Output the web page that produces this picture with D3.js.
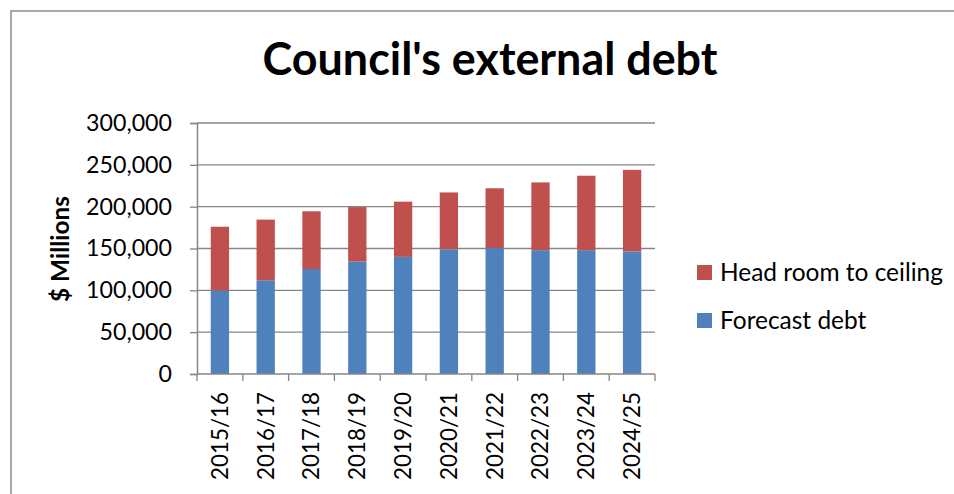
<!DOCTYPE html>
<html>
<head>
<meta charset="utf-8">
<script src="https://cdn.jsdelivr.net/npm/d3@7"></script>
<style>
  html, body { margin: 0; padding: 0; background: #fff; }
  svg { display: block; }
</style>
</head>
<body>
<div id="chart"></div>
<script>
const years = ['2015/16', '2016/17', '2017/18', '2018/19', '2019/20',
               '2020/21', '2021/22', '2022/23', '2023/24', '2024/25']
const forecast_debt = [100000, 112000, 125500, 134500, 140000, 149000, 150500, 148000, 148000, 146500]
const head_room = [76000, 72500, 69000, 65000, 66000, 68000, 71500, 81000, 89000, 97500]
const y_ticks = [0, 50000, 100000, 150000, 200000, 250000, 300000]
const series_names = ['Forecast debt', 'Head room to ceiling']

const svg_width = 954,
      svg_height = 494,
      plot_left = 197,
      plot_right = 655,
      plot_top = 123,
      plot_bottom = 374,
      grid_color = '#868686',
      font = 'Lato, Carlito, Calibri, sans-serif',
      colors = {'Forecast debt': '#4F81BD', 'Head room to ceiling': '#C0504D'}

// shrink/grow a text element's font size so it spans the given width
function fit_width(sel, width) {
  const size = parseFloat(sel.attr('font-size'))
  const w = sel.node().getComputedTextLength()
  sel.attr('font-size', size * width / w)
}

const svg = d3.select('#chart')
  .append('svg')
  .attr('width', svg_width)
  .attr('height', svg_height)

// outer chart border (only top and left edges are inside the window)
svg.append('rect')
  .attr('x', 11)
  .attr('y', 11)
  .attr('width', svg_width + 20)
  .attr('height', svg_height + 20)
  .style('fill', 'none')
  .style('stroke', '#8c8c8c')
  .style('stroke-width', 1.5)

const x = d3.scaleBand()
  .domain(years)
  .range([plot_left, plot_right])
  .paddingInner(0.6)
  .paddingOuter(0.3)

const y = d3.scaleLinear()
  .domain([0, 300000])
  .range([plot_bottom, plot_top])

// gridlines
svg.append('g')
  .selectAll('line')
  .data(y_ticks.filter(d => d > 0))
  .join('line')
  .attr('x1', plot_left)
  .attr('x2', plot_right)
  .attr('y1', d => y(d))
  .attr('y2', d => y(d))
  .style('stroke', grid_color)
  .style('stroke-width', 1.3)

// stacked bars
const rows = years.map((yr, i) => ({year: yr, 'Forecast debt': forecast_debt[i], 'Head room to ceiling': head_room[i]}))
const stacked = d3.stack().keys(series_names)(rows)

svg.append('g')
  .selectAll('g')
  .data(stacked)
  .join('g')
  .style('fill', d => colors[d.key])
  .selectAll('rect')
  .data(d => d)
  .join('rect')
  .attr('x', d => x(d.data.year))
  .attr('width', x.bandwidth())
  .attr('y', d => y(d[1]))
  .attr('height', d => y(d[0]) - y(d[1]))

// y axis
const y_axis = svg.append('g')
  .attr('transform', `translate(${plot_left},0)`)
  .call(d3.axisLeft(y).tickValues(y_ticks).tickSize(7).tickPadding(18)
    .tickFormat(d3.format(',')))

y_axis.select('.domain').style('stroke', grid_color).style('stroke-width', 1.5)
y_axis.selectAll('.tick line').style('stroke', grid_color).style('stroke-width', 1.3)
y_axis.selectAll('.tick text')
  .attr('font-family', font)
  .attr('font-size', 22)
  .attr('fill', '#000')

const top_label = y_axis.selectAll('.tick text').filter(d => d === 300000)
fit_width(top_label, 86)
y_axis.selectAll('.tick text').attr('font-size', top_label.attr('font-size'))

// x axis, ticks sit on the category boundaries
const x_axis = svg.append('g')
  .attr('transform', `translate(0,${plot_bottom})`)

x_axis.append('line')
  .attr('x1', plot_left)
  .attr('x2', plot_right)
  .style('stroke', grid_color)
  .style('stroke-width', 1.5)

const step = x.step()
x_axis.selectAll('line.tick')
  .data(d3.range(years.length + 1))
  .join('line')
  .attr('class', 'tick')
  .attr('x1', i => plot_left + i * step)
  .attr('x2', i => plot_left + i * step)
  .attr('y1', 0)
  .attr('y2', 7)
  .style('stroke', grid_color)
  .style('stroke-width', 1.3)

const x_labels = x_axis.selectAll('text')
  .data(years)
  .join('text')
  .attr('transform', d => `translate(${x(d) + x.bandwidth() / 2},18) rotate(-90)`)
  .attr('text-anchor', 'end')
  .attr('dy', '0.35em')
  .attr('font-family', font)
  .attr('font-size', 24)
  .text(d => d)

fit_width(x_labels.filter((d, i) => i === 0), 88)
x_labels.attr('font-size', x_labels.filter((d, i) => i === 0).attr('font-size'))

// y axis title
const y_title = svg.append('text')
  .attr('transform', 'translate(60,249) rotate(-90)')
  .attr('text-anchor', 'middle')
  .attr('dy', '0.35em')
  .attr('font-family', font)
  .attr('font-weight', 'bold')
  .attr('font-size', 19)
  .text('$ Millions')
fit_width(y_title, 106)

// chart title
const title = svg.append('text')
  .attr('x', 490)
  .attr('y', 75)
  .attr('text-anchor', 'middle')
  .attr('font-family', font)
  .attr('font-weight', 'bold')
  .attr('font-size', 40)
  .text("Council's external debt")
fit_width(title, 455)

// legend, head room listed first
const legend = svg.append('g')
  .attr('transform', 'translate(697,265)')

const legend_items = legend.selectAll('g')
  .data(series_names.slice().reverse())
  .join('g')
  .attr('transform', (d, i) => `translate(0,${i * 48})`)

legend_items.append('rect')
  .attr('width', 15)
  .attr('height', 15)
  .style('fill', d => colors[d])

const legend_text = legend_items.append('text')
  .attr('x', 23)
  .attr('y', 15.5)
  .attr('font-family', font)
  .attr('font-size', 24)
  .text(d => d)

fit_width(legend_text.filter((d, i) => i === 0), 223)
legend_text.attr('font-size', legend_text.filter((d, i) => i === 0).attr('font-size'))
</script>
</body>
</html>
